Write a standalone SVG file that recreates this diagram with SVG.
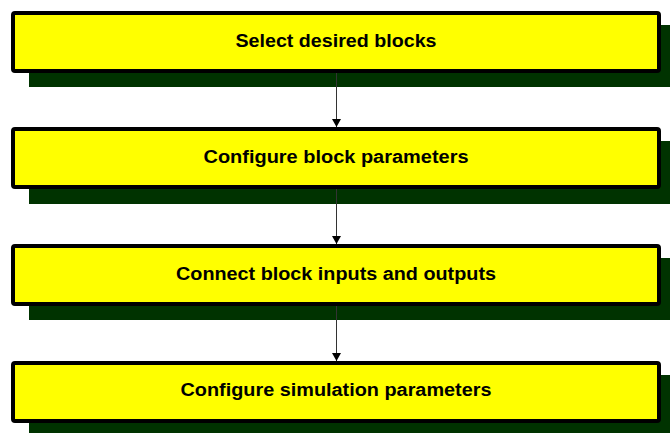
<svg xmlns="http://www.w3.org/2000/svg" width="670" height="433" viewBox="0 0 670 433">
<style>
.shadow{fill:#003300;}
.box{fill:#ffff00;stroke:#000;stroke-width:4;}
.lbl{font-family:"Liberation Sans",Arial,sans-serif;font-weight:bold;font-size:18px;fill:#000;text-anchor:middle;}
.conn{stroke:#333;stroke-width:1;fill:none;marker-end:url(#arr);}
</style>
<defs>
<marker id="arr" markerWidth="10" markerHeight="10" refX="8" refY="5" orient="auto" markerUnits="userSpaceOnUse">
<path d="M0,0.5 L8,5 L0,9.5 Z" fill="#000"/>
</marker>
</defs>
<g id="node1">
<rect class="shadow" x="29" y="25" width="650" height="62"/>
<rect class="box" x="13" y="13" width="646" height="58" rx="2"/>
<text class="lbl" x="336" y="46.5" textLength="201" lengthAdjust="spacingAndGlyphs">Select desired blocks</text>
</g>
<g id="node2">
<rect class="shadow" x="29" y="141" width="650" height="63"/>
<rect class="box" x="13" y="129" width="646" height="58" rx="2"/>
<text class="lbl" x="336" y="163" textLength="265" lengthAdjust="spacingAndGlyphs">Configure block parameters</text>
</g>
<g id="node3">
<rect class="shadow" x="29" y="258" width="650" height="62"/>
<rect class="box" x="13" y="246" width="646" height="58" rx="2"/>
<text class="lbl" x="336" y="280" textLength="320" lengthAdjust="spacingAndGlyphs">Connect block inputs and outputs</text>
</g>
<g id="node4">
<rect class="shadow" x="29" y="375" width="650" height="62"/>
<rect class="box" x="13" y="363" width="646" height="58" rx="2"/>
<text class="lbl" x="336" y="396" textLength="311" lengthAdjust="spacingAndGlyphs">Configure simulation parameters</text>
</g>
<g id="connectors">
<line class="conn" x1="336.5" y1="73" x2="336.5" y2="127"/>
<line class="conn" x1="336.5" y1="189" x2="336.5" y2="244"/>
<line class="conn" x1="336.5" y1="306" x2="336.5" y2="361"/>
</g>
</svg>
